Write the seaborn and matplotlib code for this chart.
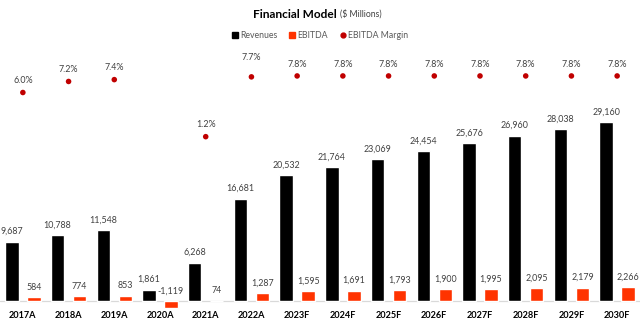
import numpy as np
import pandas as pd
import matplotlib.pyplot as plt
import seaborn as sns
from matplotlib.lines import Line2D

# data
years = ['2017A', '2018A', '2019A', '2020A', '2021A', '2022A', '2023F',
         '2024F', '2025F', '2026F', '2027F', '2028F', '2029F', '2030F']
revenues = [9687, 10788, 11548, 1861, 6268, 16681, 20532,
            21764, 23069, 24454, 25676, 26960, 28038, 29160]
ebitda = [584, 774, 853, -1119, 74, 1287, 1595,
          1691, 1793, 1900, 1995, 2095, 2179, 2266]
margin = [6.0, 7.2, 7.4, np.nan, 1.2, 7.7, 7.8,
          7.8, 7.8, 7.8, 7.8, 7.8, 7.8, 7.8]

sns.set_style("white")
plt.rcParams['font.family'] = ['Lato', 'DejaVu Sans']

df = pd.DataFrame({
    'year': years * 2,
    'value': revenues + ebitda,
    'series': ['Revenues'] * len(years) + ['EBITDA'] * len(years),
})

fig = plt.figure(figsize=(6.4, 3.24), dpi=100)
ax = fig.add_axes([0, 14 / 324, 1, 260 / 324])

sns.barplot(data=df, x='year', y='value', hue='series',
            palette={'Revenues': '#000000', 'EBITDA': '#FF3300'},
            width=0.96, gap=0.39, saturation=1, legend=False, ax=ax)

ax.axhline(0, color='#D9D9D9', lw=0.9, zorder=0)
ax.set_ylim(-1467, 40913)
ax.set_xlim(-0.5, len(years) - 0.5)
ax.set_xlabel('')
ax.set_ylabel('')
ax.set_yticks([])
ax.tick_params(axis='x', length=0, pad=1)
for lbl in ax.get_xticklabels():
    lbl.set_fontweight('bold')
    lbl.set_fontsize(6.6)
    lbl.set_color('black')
sns.despine(ax=ax, left=True, bottom=True)

# value labels on the bars
for cont in ax.containers:
    for bar in cont:
        h = bar.get_height()
        xc = bar.get_x() + bar.get_width() / 2
        ax.annotate(f'{h:,.0f}', (xc, max(h, 0)), xytext=(0, 7.2),
                    textcoords='offset points', ha='center', va='center',
                    fontsize=6.4, color='#404040')

# margin dots on a second axis
ax2 = ax.twinx()
sns.scatterplot(x=np.arange(len(years)), y=margin, ax=ax2, color='#C00000',
                s=16, edgecolor='none', legend=False)
ax2.set_ylim(-17.64, 10.62)
ax2.set_xlim(-0.5, len(years) - 0.5)
ax2.set_yticks([])
ax2.set_ylabel('')
sns.despine(ax=ax2, left=True, bottom=True, right=True)
for i, m in enumerate(margin):
    if np.isnan(m):
        continue
    off = 13.7 if years[i] == '2022A' else 8.6
    ax2.annotate(f'{m:.1f}%', (i, m), xytext=(0, off),
                 textcoords='offset points', ha='center', va='center',
                 fontsize=6.4, color='#404040')

# title
ty = 1 - 14 / 324
fig.text(337 / 640, ty, 'Financial Model', ha='right', va='center',
         fontsize=8.6, fontweight='bold', color='black')
fig.text(339.5 / 640, ty, '($ Millions)', ha='left', va='center',
         fontsize=6.2, color='#404040')

handles = [
    Line2D([], [], marker='s', ls='', color='#000000', markersize=4.5),
    Line2D([], [], marker='s', ls='', color='#FF3300', markersize=4.5),
    Line2D([], [], marker='o', ls='', color='#C00000', markersize=3.5),
]
fig.legend(handles, ['Revenues', 'EBITDA', 'EBITDA Margin'], loc='center',
           bbox_to_anchor=(0.5, 1 - 36 / 324), ncol=3, frameon=False,
           fontsize=6.3, handlelength=0.8, handletextpad=0.2,
           columnspacing=1.3, labelcolor='#595959')

fig.savefig('out.png', dpi=100)
